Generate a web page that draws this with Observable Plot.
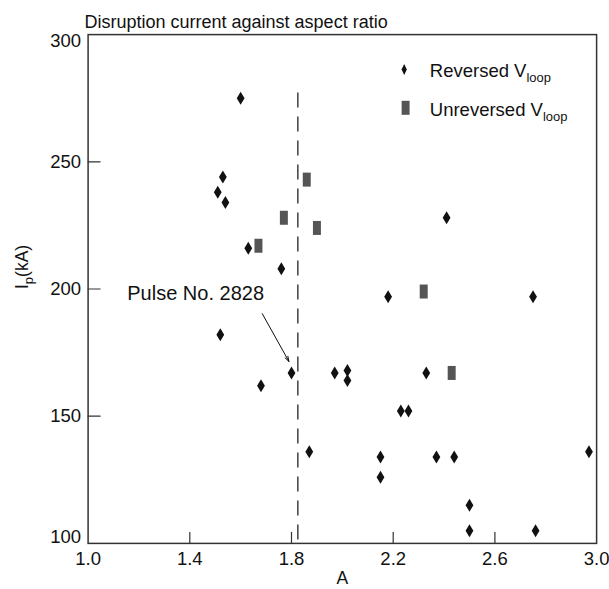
<!DOCTYPE html>
<html>
<head>
<meta charset="utf-8">
<script src="https://cdn.jsdelivr.net/npm/d3@7"></script>
<script src="https://cdn.jsdelivr.net/npm/@observablehq/plot@0.6"></script>
<style>
  body { margin: 0; background: #fff; }
  svg { display: block; }
</style>
</head>
<body>
<div id="chart"></div>
<script>
// Disruptions with a reversed loop voltage: aspect ratio A and plasma current Ip (kA)
const reversedA  = [1.60, 1.53, 1.51, 1.54, 1.63, 1.76, 1.52, 1.80, 1.68, 1.97, 2.02, 2.02, 2.41, 2.18, 2.75, 2.33, 2.23, 2.26, 1.87, 2.15, 2.15, 2.37, 2.44, 2.97, 2.50, 2.50, 2.76];
const reversedIp = [275, 244, 238, 234, 216, 208, 182, 167, 162, 167, 168, 164, 228, 197, 197, 167, 152, 152, 136, 134, 126, 134, 134, 136, 115, 105, 105];

// Disruptions with an unreversed loop voltage
const unreversedA  = [1.86, 1.77, 1.90, 1.67, 2.32, 2.43];
const unreversedIp = [243, 228, 224, 217, 199, 167];

const xTicks = [1.0, 1.4, 1.8, 2.2, 2.6, 3.0];
const yTicks = [100, 150, 200, 250, 300];

// Dashed boundary in aspect ratio
const boundaryA = [1.825];
const boundaryTop = [277];

// Annotation for pulse 2828
const pulseLabel = ["Pulse No. 2828"];
const pulseLabelA = [1.154];
const pulseLabelIp = [198];
const pulseArrowFrom = [1.685, 190.3];
const pulseArrowTo = [1.79, 171.5];

const legendLabels = ["Reversed V_{loop}", "Unreversed V_{loop}"];
const titleText = "Disruption current against aspect ratio";
const xLabel = "A";
const yLabel = "I_{p}(kA)";

const reversed = reversedA.map((a, i) => ({A: a, Ip: reversedIp[i]}));
const unreversed = unreversedA.map((a, i) => ({A: a, Ip: unreversedIp[i]}));

// Tall narrow diamond and upright bar symbols
const diamond = (k) => ({
  draw(ctx, size) {
    const r = Math.sqrt(size / Math.PI), w = r * k;
    ctx.moveTo(0, -r); ctx.lineTo(w, 0); ctx.lineTo(0, r); ctx.lineTo(-w, 0); ctx.closePath();
  }
});
const bar = {
  draw(ctx, size) {
    const r = Math.sqrt(size / Math.PI), w = r * 0.57;
    ctx.rect(-w, -r, 2 * w, 2 * r);
  }
};
const tickShape = { draw(ctx, l) { ctx.moveTo(0, 0); ctx.lineTo(0, -l); } };

const tickFont = 18.5;
const axisColor = "#333";

const chart = Plot.plot({
  width: 609,
  height: 589,
  marginLeft: 87.6,
  marginRight: 12.9,
  marginTop: 34.1,
  marginBottom: 46.1,
  x: { domain: [1, 3], axis: null },
  y: { domain: [100, 300], axis: null },
  style: { fontFamily: "'Liberation Sans', Arial, Helvetica, sans-serif", color: "#111", background: "#fff" },
  marks: [
    Plot.frame({ stroke: axisColor, strokeWidth: 1.5 }),
    // inward ticks
    Plot.vector(xTicks.slice(1, -1), { x: d => d, frameAnchor: "bottom", length: 11, rotate: 0, anchor: "start", shape: tickShape, stroke: axisColor, strokeWidth: 1.2 }),
    Plot.vector(yTicks.slice(1, -1), { y: d => d, frameAnchor: "left", length: 12, rotate: 90, anchor: "start", shape: tickShape, stroke: axisColor, strokeWidth: 1.2 }),
    // tick labels
    Plot.text(xTicks, { x: d => d, frameAnchor: "bottom", dy: 8, lineAnchor: "top", text: d => d.toFixed(1), fontSize: tickFont, fill: "#111" }),
    Plot.text(yTicks.filter(d => d > 100 && d < 300), { y: d => d, frameAnchor: "left", dx: -7, textAnchor: "end", lineAnchor: "middle", text: d => String(d), fontSize: tickFont, fill: "#111" }),
    Plot.text(yTicks.filter(d => d === 300), { y: d => d, frameAnchor: "left", dx: -7, textAnchor: "end", lineAnchor: "top", dy: -1, text: d => String(d), fontSize: tickFont, fill: "#111" }),
    Plot.text(yTicks.filter(d => d === 100), { y: d => d, frameAnchor: "left", dx: -7, textAnchor: "end", lineAnchor: "bottom", text: d => String(d), fontSize: tickFont, fill: "#111" }),
    // title and axis labels
    Plot.text([titleText], { frameAnchor: "top-left", dx: -3.6, dy: -6.6, textAnchor: "start", lineAnchor: "bottom", fontSize: 18, fill: "#111" }),
    Plot.text([xLabel], { frameAnchor: "bottom", dy: 41, lineAnchor: "bottom", fontSize: 17.5, fill: "#111" }),
    Plot.text([yLabel], { frameAnchor: "left", dx: -60, rotate: -90, lineAnchor: "bottom", fontSize: 17.5, fill: "#111" }),
    // dashed boundary
    Plot.ruleX(boundaryA, { x: d => d, y1: boundaryTop[0], y2: 100, stroke: "#222", strokeWidth: 1.3, strokeDasharray: "15,9" }),
    // data
    Plot.dot(reversed, { x: "A", y: "Ip", r: 6.5, symbol: diamond(0.6), fill: "#111", stroke: "none" }),
    Plot.dot(unreversed, { x: "A", y: "Ip", r: 7, symbol: bar, fill: "#555", stroke: "none" }),
    // annotation
    Plot.text(pulseLabel, { x: () => pulseLabelA[0], y: () => pulseLabelIp[0], textAnchor: "start", lineAnchor: "middle", fontSize: 20, fill: "#111" }),
    Plot.arrow([0], { x1: pulseArrowFrom[0], y1: pulseArrowFrom[1], x2: pulseArrowTo[0], y2: pulseArrowTo[1], stroke: "#111", strokeWidth: 1, headLength: 8, headAngle: 35 }),
    // legend
    Plot.dot([0], { frameAnchor: "top-right", dx: -192.4, dy: 34.9, r: 5.6, symbol: diamond(0.47), fill: "#111", stroke: "none" }),
    Plot.dot([0], { frameAnchor: "top-right", dx: -191, dy: 73.2, r: 7, symbol: bar, fill: "#555", stroke: "none" }),
    ...legendLabels.map((t, i) => Plot.text([t], { frameAnchor: "top-right", dx: -166.8, dy: 42.6 + i * 38.3, textAnchor: "start", lineAnchor: "bottom", fontSize: 18.5, fill: "#111" }))
  ]
});

// Render "_{...}" as subscripts
d3.select(chart).selectAll("text").each(function () {
  const full = this.textContent;
  if (!full.includes("_{")) return;
  const size = parseFloat(getComputedStyle(this).fontSize) || 18;
  const parts = full.split(/(_\{[^}]*\})/).filter(s => s.length);
  const el = d3.select(this);
  el.selectAll("*").remove();
  el.text(null);
  let shifted = false;
  const drop = size * 0.28;
  for (const p of parts) {
    const m = p.match(/^_\{([^}]*)\}$/);
    if (m) {
      el.append("tspan").attr("dy", drop).attr("font-size", size * 0.72).text(m[1]);
      shifted = true;
    } else {
      const ts = el.append("tspan").text(p);
      if (shifted) { ts.attr("dy", -drop); shifted = false; }
    }
  }
});

document.getElementById("chart").appendChild(chart);
</script>
</body>
</html>
